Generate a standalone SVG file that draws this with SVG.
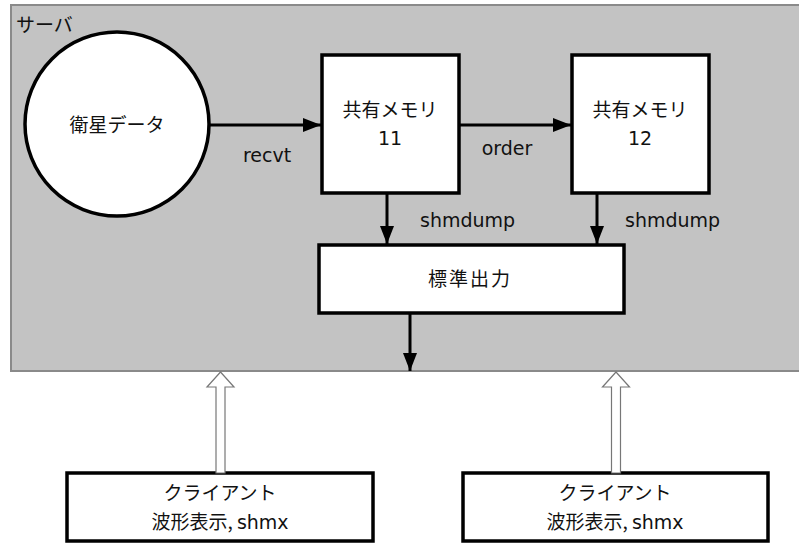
<svg xmlns="http://www.w3.org/2000/svg" width="799" height="543" viewBox="0 0 799 543">
<style>
.box{fill:#fff;stroke:#000;stroke-width:3.5}
.ln{stroke:#000;stroke-width:3;fill:none}
.t{font-family:"DejaVu Sans","Noto Sans CJK JP",sans-serif;font-size:19px;fill:#111}
.j{font-family:"Noto Sans CJK JP",sans-serif;font-size:19px;fill:#111}
.m{text-anchor:middle}
.hollow{fill:#fff;stroke:#777;stroke-width:1.2}
</style>
<defs>
<marker id="ah" markerUnits="userSpaceOnUse" markerWidth="18" markerHeight="14" refX="18" refY="7" orient="auto">
<path d="M0,0 L18,7 L0,14 Z" fill="#000"/>
</marker>
</defs>
<g id="server">
<rect x="11" y="5" width="800" height="366" fill="#c3c3c3" stroke="#8a8a8a" stroke-width="2"/>
<text class="j" x="16" y="32" font-size="20">サーバ</text>
</g>
<g id="satellite">
<circle cx="117" cy="124" r="92" fill="#fff" stroke="#000" stroke-width="3.5"/>
<text class="j m" x="117" y="132" font-size="20">衛星データ</text>
</g>
<g id="shm11">
<rect class="box" x="322" y="55" width="137" height="138"/>
<text class="j m" x="390" y="117">共有メモリ</text>
<text class="t m" x="390" y="145">11</text>
</g>
<g id="shm12">
<rect class="box" x="572" y="55" width="137" height="138"/>
<text class="j m" x="640" y="117">共有メモリ</text>
<text class="t m" x="640" y="145">12</text>
</g>
<g id="stdout">
<rect class="box" x="319" y="245" width="305" height="68"/>
<text class="j m" x="470" y="286" font-size="20" letter-spacing="2">標準出力</text>
</g>
<g id="client1">
<rect class="box" x="67" y="473" width="306" height="68"/>
<text class="j m" x="220" y="500" font-size="18">クライアント</text>
<text class="j m" x="220" y="529" font-size="18">波形表示, <tspan class="t">shmx</tspan></text>
</g>
<g id="client2">
<rect class="box" x="463" y="473" width="305" height="68"/>
<text class="j m" x="615" y="500" font-size="18">クライアント</text>
<text class="j m" x="615" y="529" font-size="18">波形表示, <tspan class="t">shmx</tspan></text>
</g>
<g id="connectors">
<line class="ln" x1="209" y1="125" x2="321" y2="125" marker-end="url(#ah)"/>
<text class="t m" x="267" y="162">recvt</text>
<line class="ln" x1="459" y1="125" x2="571" y2="125" marker-end="url(#ah)"/>
<text class="t m" x="507" y="155">order</text>
<line class="ln" x1="387" y1="193" x2="387" y2="244" marker-end="url(#ah)"/>
<text class="t" x="420" y="227">shmdump</text>
<line class="ln" x1="597" y1="193" x2="597" y2="244" marker-end="url(#ah)"/>
<text class="t" x="625" y="227">shmdump</text>
<line class="ln" x1="410" y1="313" x2="410" y2="371" marker-end="url(#ah)"/>
<polygon class="hollow" points="216,473 216,387 207,387 220.5,372 234,387 225,387 225,473"/>
<polygon class="hollow" points="611.5,473 611.5,387 602.5,387 616,372 629.5,387 620.5,387 620.5,473"/>
</g>
</svg>
